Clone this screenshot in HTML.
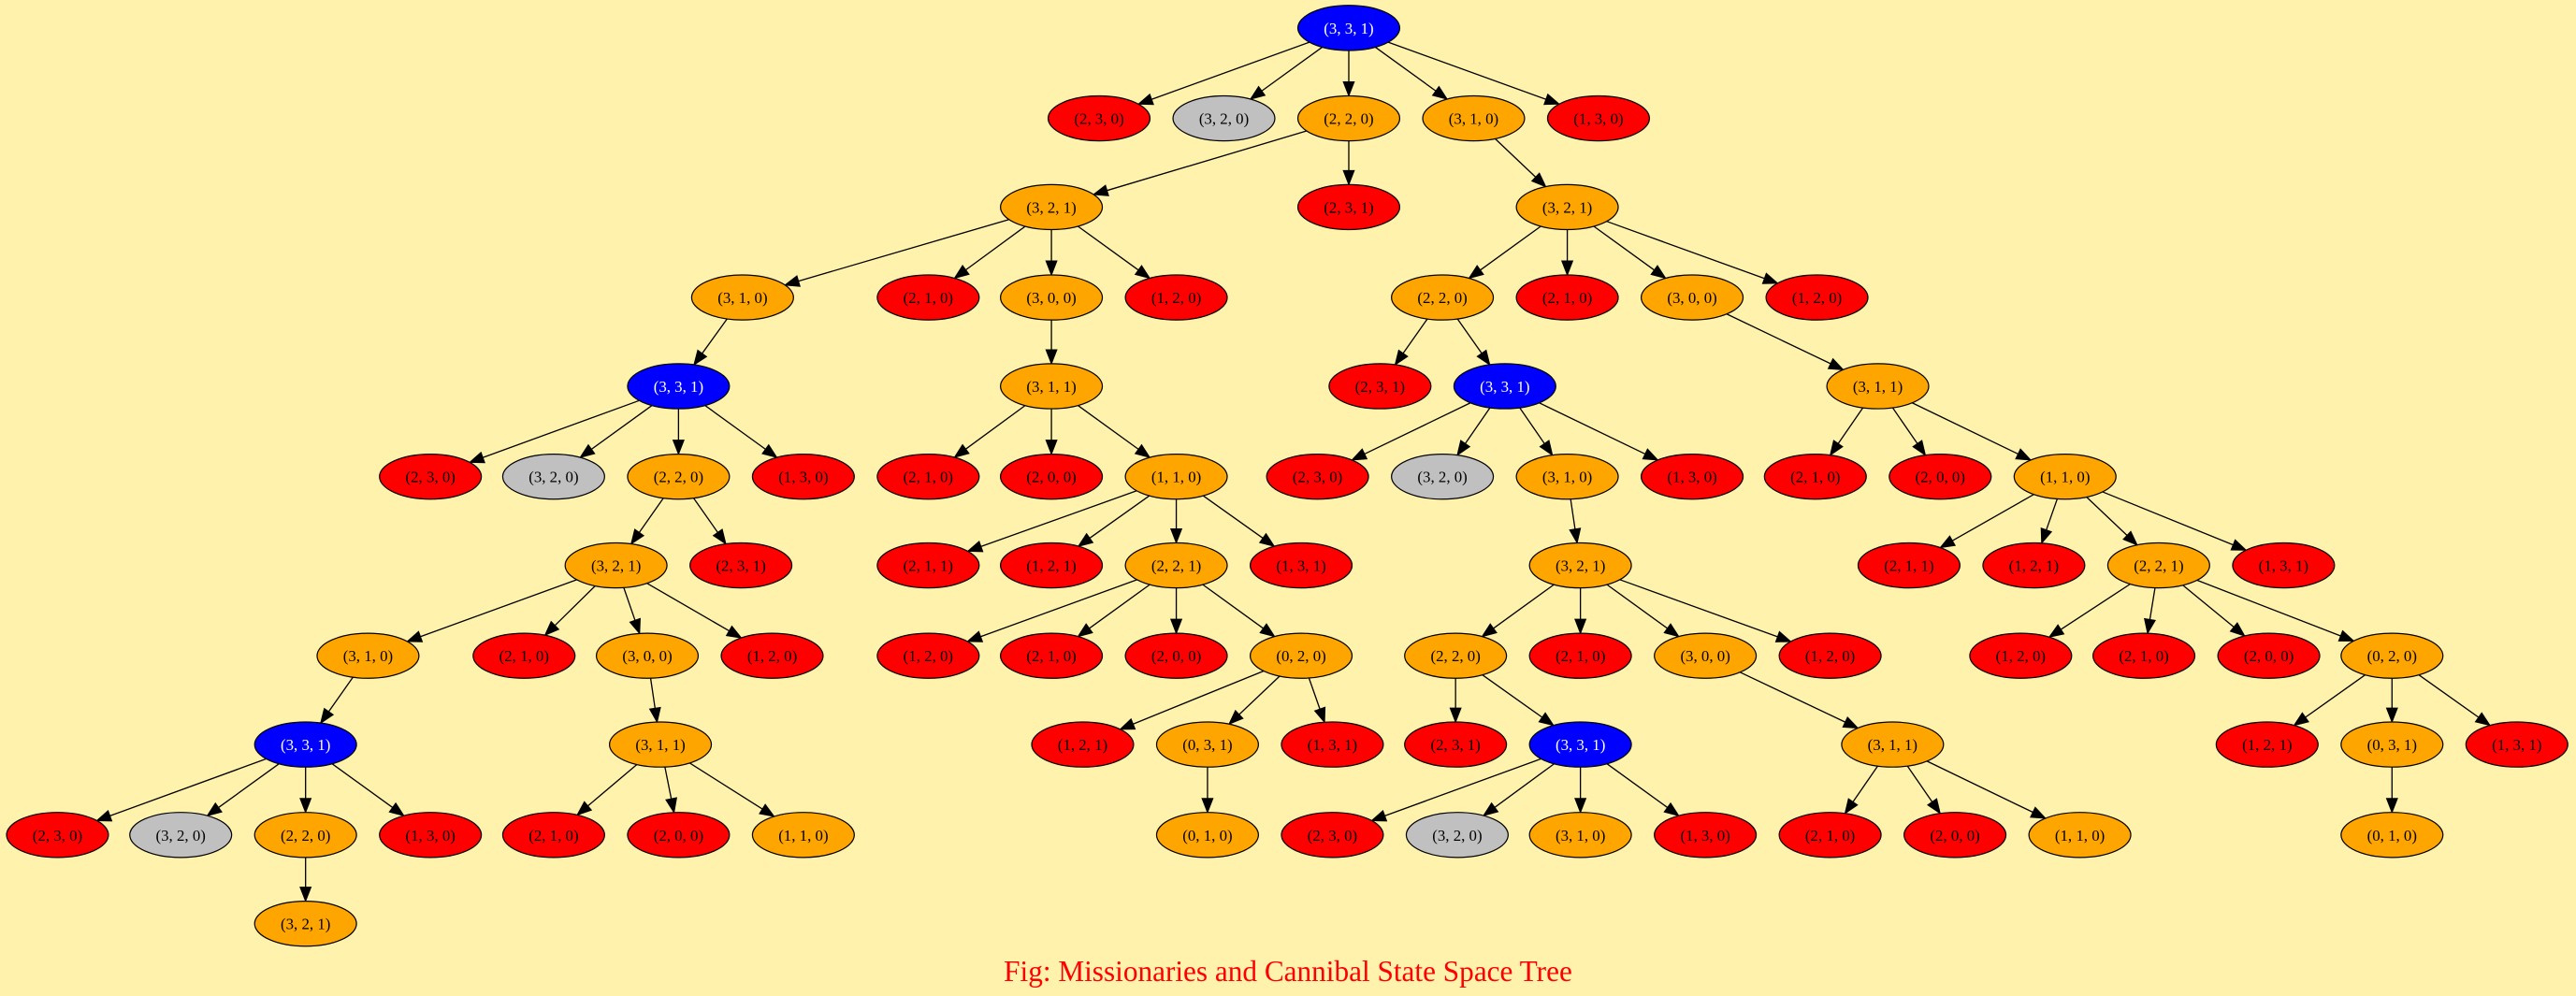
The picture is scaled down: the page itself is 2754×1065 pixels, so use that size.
<!DOCTYPE html>
<html><head><meta charset="utf-8">
<style>
html,body{margin:0;padding:0;background:#fff2ac;}
svg{display:block;}
text{font-family:"Liberation Serif",serif;font-size:9.6px;text-anchor:middle;fill:#000;}
ellipse{stroke:#000;stroke-width:0.7;}
.B ellipse{fill:#0000ff}.B text{fill:#fff}
.R ellipse{fill:#ff0000}
.G ellipse{fill:#c0c0c0}
.O ellipse{fill:#ffa500}
</style></head><body>
<svg id="s" width="2754" height="1065" viewBox="0 0 1568 606" preserveAspectRatio="none">
<rect width="1568" height="606" fill="#fff2ac"/>
<g id="edges"></g>
<g id="nodes">
<g id="a" class="B" transform="translate(821,17)"><ellipse rx="31" ry="13.7"/><text y="3.4">(3, 3, 1)</text></g>
<g id="b1" class="R" transform="translate(669,72)"><ellipse rx="31" ry="13.7"/><text y="3.4">(2, 3, 0)</text></g>
<g id="b2" class="G" transform="translate(745,72)"><ellipse rx="31" ry="13.7"/><text y="3.4">(3, 2, 0)</text></g>
<g id="b3" class="O" transform="translate(821,72)"><ellipse rx="31" ry="13.7"/><text y="3.4">(2, 2, 0)</text></g>
<g id="b4" class="O" transform="translate(897,72)"><ellipse rx="31" ry="13.7"/><text y="3.4">(3, 1, 0)</text></g>
<g id="b5" class="R" transform="translate(973,72)"><ellipse rx="31" ry="13.7"/><text y="3.4">(1, 3, 0)</text></g>
<g id="c1" class="O" transform="translate(640,126)"><ellipse rx="31" ry="13.7"/><text y="3.4">(3, 2, 1)</text></g>
<g id="c2" class="R" transform="translate(821,126)"><ellipse rx="31" ry="13.7"/><text y="3.4">(2, 3, 1)</text></g>
<g id="c3" class="O" transform="translate(954,126)"><ellipse rx="31" ry="13.7"/><text y="3.4">(3, 2, 1)</text></g>
<g id="d1" class="O" transform="translate(452,181)"><ellipse rx="31" ry="13.7"/><text y="3.4">(3, 1, 0)</text></g>
<g id="d2" class="R" transform="translate(565,181)"><ellipse rx="31" ry="13.7"/><text y="3.4">(2, 1, 0)</text></g>
<g id="d3" class="O" transform="translate(640,181)"><ellipse rx="31" ry="13.7"/><text y="3.4">(3, 0, 0)</text></g>
<g id="d4" class="R" transform="translate(716,181)"><ellipse rx="31" ry="13.7"/><text y="3.4">(1, 2, 0)</text></g>
<g id="d5" class="O" transform="translate(878,181)"><ellipse rx="31" ry="13.7"/><text y="3.4">(2, 2, 0)</text></g>
<g id="d6" class="R" transform="translate(954,181)"><ellipse rx="31" ry="13.7"/><text y="3.4">(2, 1, 0)</text></g>
<g id="d7" class="O" transform="translate(1030,181)"><ellipse rx="31" ry="13.7"/><text y="3.4">(3, 0, 0)</text></g>
<g id="d8" class="R" transform="translate(1106,181)"><ellipse rx="31" ry="13.7"/><text y="3.4">(1, 2, 0)</text></g>
<g id="e1" class="B" transform="translate(413,235)"><ellipse rx="31" ry="13.7"/><text y="3.4">(3, 3, 1)</text></g>
<g id="e2" class="O" transform="translate(640,235)"><ellipse rx="31" ry="13.7"/><text y="3.4">(3, 1, 1)</text></g>
<g id="e3" class="R" transform="translate(840,235)"><ellipse rx="31" ry="13.7"/><text y="3.4">(2, 3, 1)</text></g>
<g id="e4" class="B" transform="translate(916,235)"><ellipse rx="31" ry="13.7"/><text y="3.4">(3, 3, 1)</text></g>
<g id="e5" class="O" transform="translate(1143,235)"><ellipse rx="31" ry="13.7"/><text y="3.4">(3, 1, 1)</text></g>
<g id="f1" class="R" transform="translate(262,290)"><ellipse rx="31" ry="13.7"/><text y="3.4">(2, 3, 0)</text></g>
<g id="f2" class="G" transform="translate(337,290)"><ellipse rx="31" ry="13.7"/><text y="3.4">(3, 2, 0)</text></g>
<g id="f3" class="O" transform="translate(413,290)"><ellipse rx="31" ry="13.7"/><text y="3.4">(2, 2, 0)</text></g>
<g id="f4" class="R" transform="translate(489,290)"><ellipse rx="31" ry="13.7"/><text y="3.4">(1, 3, 0)</text></g>
<g id="f5" class="R" transform="translate(565,290)"><ellipse rx="31" ry="13.7"/><text y="3.4">(2, 1, 0)</text></g>
<g id="f6" class="R" transform="translate(640,290)"><ellipse rx="31" ry="13.7"/><text y="3.4">(2, 0, 0)</text></g>
<g id="f7" class="O" transform="translate(716,290)"><ellipse rx="31" ry="13.7"/><text y="3.4">(1, 1, 0)</text></g>
<g id="f8" class="R" transform="translate(802,290)"><ellipse rx="31" ry="13.7"/><text y="3.4">(2, 3, 0)</text></g>
<g id="f9" class="G" transform="translate(878,290)"><ellipse rx="31" ry="13.7"/><text y="3.4">(3, 2, 0)</text></g>
<g id="f10" class="O" transform="translate(954,290)"><ellipse rx="31" ry="13.7"/><text y="3.4">(3, 1, 0)</text></g>
<g id="f11" class="R" transform="translate(1030,290)"><ellipse rx="31" ry="13.7"/><text y="3.4">(1, 3, 0)</text></g>
<g id="f12" class="R" transform="translate(1105,290)"><ellipse rx="31" ry="13.7"/><text y="3.4">(2, 1, 0)</text></g>
<g id="f13" class="R" transform="translate(1181,290)"><ellipse rx="31" ry="13.7"/><text y="3.4">(2, 0, 0)</text></g>
<g id="f14" class="O" transform="translate(1257,290)"><ellipse rx="31" ry="13.7"/><text y="3.4">(1, 1, 0)</text></g>
<g id="g1" class="O" transform="translate(375,344)"><ellipse rx="31" ry="13.7"/><text y="3.4">(3, 2, 1)</text></g>
<g id="g2" class="R" transform="translate(451,344)"><ellipse rx="31" ry="13.7"/><text y="3.4">(2, 3, 1)</text></g>
<g id="g3" class="R" transform="translate(565,344)"><ellipse rx="31" ry="13.7"/><text y="3.4">(2, 1, 1)</text></g>
<g id="g4" class="R" transform="translate(640,344)"><ellipse rx="31" ry="13.7"/><text y="3.4">(1, 2, 1)</text></g>
<g id="g5" class="O" transform="translate(716,344)"><ellipse rx="31" ry="13.7"/><text y="3.4">(2, 2, 1)</text></g>
<g id="g6" class="R" transform="translate(792,344)"><ellipse rx="31" ry="13.7"/><text y="3.4">(1, 3, 1)</text></g>
<g id="g7" class="O" transform="translate(962,344)"><ellipse rx="31" ry="13.7"/><text y="3.4">(3, 2, 1)</text></g>
<g id="g8" class="R" transform="translate(1162,344)"><ellipse rx="31" ry="13.7"/><text y="3.4">(2, 1, 1)</text></g>
<g id="g9" class="R" transform="translate(1238,344)"><ellipse rx="31" ry="13.7"/><text y="3.4">(1, 2, 1)</text></g>
<g id="g10" class="O" transform="translate(1314,344)"><ellipse rx="31" ry="13.7"/><text y="3.4">(2, 2, 1)</text></g>
<g id="g11" class="R" transform="translate(1390,344)"><ellipse rx="31" ry="13.7"/><text y="3.4">(1, 3, 1)</text></g>
<g id="h1" class="O" transform="translate(224,399)"><ellipse rx="31" ry="13.7"/><text y="3.4">(3, 1, 0)</text></g>
<g id="h2" class="R" transform="translate(319,399)"><ellipse rx="31" ry="13.7"/><text y="3.4">(2, 1, 0)</text></g>
<g id="h3" class="O" transform="translate(394,399)"><ellipse rx="31" ry="13.7"/><text y="3.4">(3, 0, 0)</text></g>
<g id="h4" class="R" transform="translate(470,399)"><ellipse rx="31" ry="13.7"/><text y="3.4">(1, 2, 0)</text></g>
<g id="h5" class="R" transform="translate(565,399)"><ellipse rx="31" ry="13.7"/><text y="3.4">(1, 2, 0)</text></g>
<g id="h6" class="R" transform="translate(640,399)"><ellipse rx="31" ry="13.7"/><text y="3.4">(2, 1, 0)</text></g>
<g id="h7" class="R" transform="translate(716,399)"><ellipse rx="31" ry="13.7"/><text y="3.4">(2, 0, 0)</text></g>
<g id="h8" class="O" transform="translate(792,399)"><ellipse rx="31" ry="13.7"/><text y="3.4">(0, 2, 0)</text></g>
<g id="h9" class="O" transform="translate(886,399)"><ellipse rx="31" ry="13.7"/><text y="3.4">(2, 2, 0)</text></g>
<g id="h10" class="R" transform="translate(962,399)"><ellipse rx="31" ry="13.7"/><text y="3.4">(2, 1, 0)</text></g>
<g id="h11" class="O" transform="translate(1038,399)"><ellipse rx="31" ry="13.7"/><text y="3.4">(3, 0, 0)</text></g>
<g id="h12" class="R" transform="translate(1114,399)"><ellipse rx="31" ry="13.7"/><text y="3.4">(1, 2, 0)</text></g>
<g id="h13" class="R" transform="translate(1230,399)"><ellipse rx="31" ry="13.7"/><text y="3.4">(1, 2, 0)</text></g>
<g id="h14" class="R" transform="translate(1305,399)"><ellipse rx="31" ry="13.7"/><text y="3.4">(2, 1, 0)</text></g>
<g id="h15" class="R" transform="translate(1381,399)"><ellipse rx="31" ry="13.7"/><text y="3.4">(2, 0, 0)</text></g>
<g id="h16" class="O" transform="translate(1456,399)"><ellipse rx="31" ry="13.7"/><text y="3.4">(0, 2, 0)</text></g>
<g id="i1" class="B" transform="translate(186,453)"><ellipse rx="31" ry="13.7"/><text y="3.4">(3, 3, 1)</text></g>
<g id="i2" class="O" transform="translate(402,453)"><ellipse rx="31" ry="13.7"/><text y="3.4">(3, 1, 1)</text></g>
<g id="i3" class="R" transform="translate(659,453)"><ellipse rx="31" ry="13.7"/><text y="3.4">(1, 2, 1)</text></g>
<g id="i4" class="O" transform="translate(735,453)"><ellipse rx="31" ry="13.7"/><text y="3.4">(0, 3, 1)</text></g>
<g id="i5" class="R" transform="translate(811,453)"><ellipse rx="31" ry="13.7"/><text y="3.4">(1, 3, 1)</text></g>
<g id="i6" class="R" transform="translate(886,453)"><ellipse rx="31" ry="13.7"/><text y="3.4">(2, 3, 1)</text></g>
<g id="i7" class="B" transform="translate(962,453)"><ellipse rx="31" ry="13.7"/><text y="3.4">(3, 3, 1)</text></g>
<g id="i8" class="O" transform="translate(1152,453)"><ellipse rx="31" ry="13.7"/><text y="3.4">(3, 1, 1)</text></g>
<g id="i9" class="R" transform="translate(1380,453)"><ellipse rx="31" ry="13.7"/><text y="3.4">(1, 2, 1)</text></g>
<g id="i10" class="O" transform="translate(1456,453)"><ellipse rx="31" ry="13.7"/><text y="3.4">(0, 3, 1)</text></g>
<g id="i11" class="R" transform="translate(1532,453)"><ellipse rx="31" ry="13.7"/><text y="3.4">(1, 3, 1)</text></g>
<g id="j1" class="R" transform="translate(35,508)"><ellipse rx="31" ry="13.7"/><text y="3.4">(2, 3, 0)</text></g>
<g id="j2" class="G" transform="translate(110,508)"><ellipse rx="31" ry="13.7"/><text y="3.4">(3, 2, 0)</text></g>
<g id="j3" class="O" transform="translate(186,508)"><ellipse rx="31" ry="13.7"/><text y="3.4">(2, 2, 0)</text></g>
<g id="j4" class="R" transform="translate(262,508)"><ellipse rx="31" ry="13.7"/><text y="3.4">(1, 3, 0)</text></g>
<g id="j5" class="R" transform="translate(337,508)"><ellipse rx="31" ry="13.7"/><text y="3.4">(2, 1, 0)</text></g>
<g id="j6" class="R" transform="translate(413,508)"><ellipse rx="31" ry="13.7"/><text y="3.4">(2, 0, 0)</text></g>
<g id="j7" class="O" transform="translate(489,508)"><ellipse rx="31" ry="13.7"/><text y="3.4">(1, 1, 0)</text></g>
<g id="j8" class="O" transform="translate(735,508)"><ellipse rx="31" ry="13.7"/><text y="3.4">(0, 1, 0)</text></g>
<g id="j9" class="R" transform="translate(811,508)"><ellipse rx="31" ry="13.7"/><text y="3.4">(2, 3, 0)</text></g>
<g id="j10" class="G" transform="translate(887,508)"><ellipse rx="31" ry="13.7"/><text y="3.4">(3, 2, 0)</text></g>
<g id="j11" class="O" transform="translate(962,508)"><ellipse rx="31" ry="13.7"/><text y="3.4">(3, 1, 0)</text></g>
<g id="j12" class="R" transform="translate(1038,508)"><ellipse rx="31" ry="13.7"/><text y="3.4">(1, 3, 0)</text></g>
<g id="j13" class="R" transform="translate(1114,508)"><ellipse rx="31" ry="13.7"/><text y="3.4">(2, 1, 0)</text></g>
<g id="j14" class="R" transform="translate(1190,508)"><ellipse rx="31" ry="13.7"/><text y="3.4">(2, 0, 0)</text></g>
<g id="j15" class="O" transform="translate(1266,508)"><ellipse rx="31" ry="13.7"/><text y="3.4">(1, 1, 0)</text></g>
<g id="j16" class="O" transform="translate(1456,508)"><ellipse rx="31" ry="13.7"/><text y="3.4">(0, 1, 0)</text></g>
<g id="k1" class="O" transform="translate(186,562)"><ellipse rx="31" ry="13.7"/><text y="3.4">(3, 2, 1)</text></g>
</g>
<text x="784" y="597" style="font-size:17.8px;fill:#ff0000;font-family:'Liberation Serif',serif">Fig: Missionaries and Cannibal State Space Tree</text>
</svg>
<script>
var E={a:"b1 b2 b3 b4 b5",b3:"c1 c2",b4:"c3",c1:"d1 d2 d3 d4",c3:"d5 d6 d7 d8",d1:"e1",d3:"e2",d5:"e3 e4",d7:"e5",
e1:"f1 f2 f3 f4",e2:"f5 f6 f7",e4:"f8 f9 f10 f11",e5:"f12 f13 f14",f3:"g1 g2",f7:"g3 g4 g5 g6",f10:"g7",f14:"g8 g9 g10 g11",
g1:"h1 h2 h3 h4",g5:"h5 h6 h7 h8",g7:"h9 h10 h11 h12",g10:"h13 h14 h15 h16",h1:"i1",h3:"i2",h8:"i3 i4 i5",h9:"i6 i7",h11:"i8",h16:"i9 i10 i11",
i1:"j1 j2 j3 j4",i2:"j5 j6 j7",i4:"j8",i7:"j9 j10 j11 j12",i8:"j13 j14 j15",i10:"j16",j3:"k1"};
function pos(id){var t=document.getElementById(id).getAttribute("transform").match(/[\d.]+/g);return[+t[0],+t[1]];}
var RX=31,RY=13.7,out="";
function bnd(c,dx,dy){var k=1/Math.sqrt(dx*dx/(RX*RX)+dy*dy/(RY*RY));return[c[0]+dx*k,c[1]+dy*k];}
for(var p in E){E[p].split(" ").forEach(function(ch){
var P=pos(p),C=pos(ch),dx=C[0]-P[0],dy=C[1]-P[1];
var s=bnd(P,dx,dy),e=bnd(C,-dx,-dy);
var L=Math.hypot(e[0]-s[0],e[1]-s[1]),ux=(e[0]-s[0])/L,uy=(e[1]-s[1])/L,al=8.5,aw=3.3;
var bx=e[0]-ux*al,by=e[1]-uy*al;
out+='<line x1="'+s[0]+'" y1="'+s[1]+'" x2="'+bx+'" y2="'+by+'" stroke="#000" stroke-width="0.75"/>';
out+='<polygon points="'+e[0]+','+e[1]+' '+(bx-uy*aw)+','+(by+ux*aw)+' '+(bx+uy*aw)+','+(by-ux*aw)+'" fill="#000" stroke="#000" stroke-width="0.6"/>';
});}
document.getElementById("edges").innerHTML=out;
</script>
</body></html>
